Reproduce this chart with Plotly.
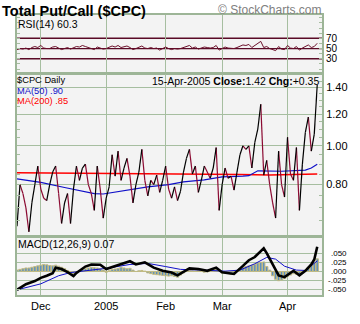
import math
import plotly.graph_objects as go

# ---------------- data ----------------
# trading-day index 0 = 18-Nov-2004 ... 101 = 15-Apr-2005
cpc = [0.63, 0.80, 0.76, 0.70, 0.61, 0.72, 0.80, 0.89, 0.78, 0.74,
       0.73, 0.80, 0.86, 0.89, 0.76, 0.64, 0.72, 0.76, 0.64, 0.78,
       0.89, 0.82, 0.88, 0.90, 0.80, 0.76, 0.69, 0.89, 0.78, 0.66,
       0.74, 0.79, 0.95, 0.84, 0.97, 0.82, 0.88, 0.93, 0.84, 0.72,
       0.80, 0.86, 0.98, 0.82, 0.75, 0.82, 0.80, 0.845, 0.765, 0.82,
       0.89, 0.78, 0.74, 0.79, 0.73, 0.77, 0.86, 0.93, 0.98, 0.85,
       0.89, 0.765, 0.82, 0.89, 0.86, 0.83, 0.88, 0.99, 0.69, 0.80,
       0.88, 0.83, 0.84, 0.775, 0.86, 0.95, 1.00, 0.98, 1.00, 0.88,
       1.02, 1.10, 1.27, 0.845, 0.92, 0.80, 0.72, 0.66, 0.97, 0.80,
       0.745, 1.05, 0.85, 0.82, 0.99, 0.69, 0.90, 1.08, 1.18, 0.97,
       1.07, 1.42]

ma50_days = [0, 8, 16, 26, 29, 39, 44, 51, 56, 63, 69, 76, 78, 81, 89, 97, 99, 101]
ma50_vals = [0.827, 0.81, 0.787, 0.76, 0.758, 0.78, 0.79, 0.80, 0.813, 0.822,
             0.836, 0.84, 0.842, 0.866, 0.864, 0.87, 0.88, 0.90]

ma200_days = [0, 20, 40, 60, 75, 85, 95, 101]
ma200_vals = [0.857, 0.855, 0.855, 0.853, 0.848, 0.846, 0.848, 0.85]

rsi = [48, 50, 49, 51, 48, 52, 54, 52, 56, 51,
       50, 50, 53, 54, 51, 48, 50, 52, 49, 51,
       54, 53, 56, 54, 52, 51, 48, 53, 51, 49,
       50, 52, 55, 53, 56, 52, 53, 55, 52, 48,
       50, 52, 55, 51, 50, 52, 50, 51, 47, 50,
       53, 50, 48, 50, 49, 50, 52, 54, 56, 51,
       53, 49, 51, 53, 52, 51, 52, 56, 47, 50,
       53, 51, 51, 50, 52, 55, 57, 56, 58, 52,
       56, 59, 64, 52, 54, 50, 48, 46, 54, 49,
       48, 56, 51, 50, 54, 47, 51, 54, 57, 52,
       54, 60.3]

macd_days = [0, 3, 6, 8, 10, 12, 13, 15, 17, 19, 20, 23, 25, 28, 30, 33, 35, 38,
             40, 43, 46, 49, 52, 54, 58, 61, 64, 67, 69, 73, 76, 78, 80, 83, 84,
             85, 87, 88, 90, 93, 95, 97, 99, 100, 101]
macd_vals = [-0.052, -0.036, -0.027, -0.018, -0.012, -0.005, 0.011, 0.007, -0.002,
             -0.013, -0.004, 0.014, 0.020, 0.019, 0.007, 0.015, 0.022, 0.029,
             0.020, 0.026, 0.011, 0.002, -0.003, -0.011, 0.009, 0.007, 0.002,
             0.011, -0.002, -0.007, 0.016, 0.032, 0.041, 0.066, 0.052, 0.036,
             0.002, -0.011, -0.016, 0.002, -0.011, 0.002, 0.020, 0.034, 0.070]

signal_days = [0, 8, 14, 18, 25, 30, 38, 44, 50, 55, 62, 70, 75, 80, 84, 87, 90, 94, 97, 101]
signal_vals = [-0.052, -0.035, -0.012, -0.003, 0.004, 0.009, 0.020, 0.023, 0.014,
               0.006, 0.004, 0.001, 0.004, 0.022, 0.040, 0.035, 0.015, 0.004,
               0.003, 0.030]

hist = [0.004, 0.006, 0.008, 0.010, 0.010, 0.012, 0.014, 0.016,
        0.018, 0.020, 0.019, 0.017, 0.016, 0.018, 0.015, 0.012,
        0.008, 0.003, -0.002, -0.006, -0.004, 0.002, 0.006, 0.008,
        0.010, 0.012, 0.011, 0.010, 0.008, 0.004, -0.002, 0.002,
        0.006, 0.007, 0.009, 0.012, 0.010, 0.008, 0.009, 0.004,
        0.000, 0.002, 0.003, 0.001, -0.004, -0.006, -0.008, -0.009,
        -0.010, -0.011, -0.012, -0.013, -0.012, -0.014, -0.016, -0.010,
        -0.004, 0.002, 0.003, 0.002, 0.001, 0.003, 0.001, -0.002,
        -0.001, 0.004, 0.006, 0.005, 0.000, -0.004, -0.005, -0.006,
        -0.008, -0.006, 0.002, 0.008, 0.012, 0.014, 0.016, 0.018,
        0.020, 0.024, 0.026, 0.027, 0.014, 0.004, -0.012, -0.022,
        -0.026, -0.024, -0.020, -0.014, -0.010, -0.006, -0.008, -0.010,
        -0.004, 0.002, 0.012, 0.018, 0.024, 0.036]

month_idx = [8, 30, 50, 69, 91]
month_labels = ["Dec", "2005", "Feb", "Mar", "Apr"]

rsi_ticks = [70, 50, 30]
price_ticks = [1.40, 1.20, 1.00, 0.80]
macd_ticks = [0.05, 0.025, 0.0, -0.025, -0.05]
macd_tick_labels = [".050", ".025", ".000", "-.025", "-.050"]

# ---------------- layout helpers ----------------
W, H = 360, 324
L, R, T, B = 17, 33, 15, 17
PW, PH = W - L - R, H - T - B


def px_x(p):
    return (p - L) / PW


def px_y(p):
    return (H - B - p) / PH


SAGE = "#a6bea0"
BORDER = "#9db597"
MAROON = "#8b0a32"
FONT = "Liberation Sans, Arial, sans-serif"

days = list(range(len(cpc)))
xr = [0, 102.6]

fig = go.Figure()

# RSI panel
fig.add_trace(go.Scatter(x=days, y=rsi, mode="lines", line=dict(color="#6b0f2a", width=1),
                         xaxis="x", yaxis="y", hoverinfo="skip"))

# price panel: black up-segments, maroon down-segments
ux, uy, dx, dy = [], [], [], []
for i in range(1, len(cpc)):
    if cpc[i] >= cpc[i - 1]:
        ux += [i - 1, i, None]
        uy += [cpc[i - 1], cpc[i], None]
    else:
        dx += [i - 1, i, None]
        dy += [cpc[i - 1], cpc[i], None]
fig.add_trace(go.Scatter(x=ma200_days, y=ma200_vals, mode="lines",
                         line=dict(color="#ff0000", width=1.5), xaxis="x2", yaxis="y2"))
fig.add_trace(go.Scatter(x=ma50_days, y=ma50_vals, mode="lines",
                         line=dict(color="#1010c8", width=1.2), xaxis="x2", yaxis="y2"))
fig.add_trace(go.Scatter(x=dx, y=dy, mode="lines", line=dict(color=MAROON, width=1.2),
                         xaxis="x2", yaxis="y2", connectgaps=False))
fig.add_trace(go.Scatter(x=ux, y=uy, mode="lines", line=dict(color="#000000", width=1.2),
                         xaxis="x2", yaxis="y2", connectgaps=False))

# MACD panel
fig.add_trace(go.Bar(x=days, y=hist, width=0.8,
                     marker=dict(color="#5a8ec0", line=dict(color="#c4bb80", width=1)),
                     xaxis="x3", yaxis="y3"))
fig.add_trace(go.Scatter(x=signal_days, y=signal_vals, mode="lines",
                         line=dict(color="#1010c8", width=1), xaxis="x3", yaxis="y3"))
fig.add_trace(go.Scatter(x=macd_days, y=macd_vals, mode="lines",
                         line=dict(color="#000000", width=2.6), xaxis="x3", yaxis="y3"))

xcommon = dict(range=xr, tickvals=month_idx, ticktext=month_labels, showgrid=True,
               gridcolor=SAGE, gridwidth=1, showline=True, mirror=True, linecolor=BORDER,
               linewidth=2, zeroline=False, ticks="", fixedrange=True)

dom_rsi = [px_y(76), px_y(15)]
dom_main = [px_y(245), px_y(77)]
dom_macd = [px_y(307), px_y(247)]

ycommon = dict(side="right", showline=True, mirror="allticks", linecolor=BORDER, linewidth=2,
               zeroline=False, ticks="inside", ticklen=3, tickcolor=SAGE,
               tickfont=dict(family=FONT, size=11, color="#000"), fixedrange=True)

fig.update_layout(
    width=W, height=H,
    margin=dict(l=L, r=R, t=T, b=B, pad=0),
    paper_bgcolor="white", plot_bgcolor="#f3f3f3",
    showlegend=False, bargap=0.2,
    font=dict(family=FONT, size=11, color="#000"),
    xaxis=dict(xcommon, domain=[0, 1], anchor="y", showticklabels=False),
    xaxis2=dict(xcommon, domain=[0, 1], anchor="y2", showticklabels=False),
    xaxis3=dict(xcommon, domain=[0, 1], anchor="y3", showticklabels=True,
                tickfont=dict(family=FONT, size=11, color="#000")),
    yaxis=dict(ycommon, domain=dom_rsi, anchor="x", range=[1.4, 115.4],
               tickvals=rsi_ticks, ticktext=[str(v) for v in rsi_ticks], showgrid=False,
               tickfont=dict(family=FONT, size=10, color="#000"),
               minor=dict(tickvals=[10, 20, 40, 60, 80, 90, 100, 110], ticks="inside",
                          ticklen=3, tickcolor=SAGE, showgrid=False)),
    yaxis2=dict(ycommon, domain=dom_main, anchor="x2", type="log",
                range=[math.log10(0.597), math.log10(1.507)],
                tickvals=price_ticks, ticktext=["%.2f" % v for v in price_ticks],
                showgrid=True, gridcolor=SAGE,
                minor=dict(tickvals=[0.6, 0.65, 0.7, 0.75, 0.85, 0.9, 0.95, 1.05, 1.1, 1.15,
                                     1.25, 1.3, 1.35, 1.45, 1.5],
                           ticks="inside", ticklen=3, tickcolor=SAGE, showgrid=False)),
    yaxis3=dict(ycommon, domain=dom_macd, anchor="x3", range=[-0.0666, 0.0965],
                tickvals=macd_ticks, showticklabels=False, showgrid=True, gridcolor=SAGE),
)

# RSI reference lines (70 / 50 / 30)
for lv, wd in ((70, 1.5), (50, 1.2), (30, 1.5)):
    fig.add_shape(type="line", xref="x", yref="y", x0=xr[0], x1=xr[1], y0=lv, y1=lv,
                  line=dict(color="#5a0a26", width=wd), layer="below")

# MACD tick labels (right aligned, tightly stacked like the original)
for v, t in zip(macd_ticks, macd_tick_labels):
    fig.add_annotation(xref="paper", yref="y3", x=px_x(353), y=v, text=t, showarrow=False,
                       xanchor="right", yanchor="middle", borderpad=0,
                       font=dict(size=8, family=FONT))

ann = [
    dict(x=px_x(1), y=px_y(1), text="<b>Total Put/Call ($CPC)</b>", size=14.5, color="#000",
         xanchor="left"),
    dict(x=px_x(328), y=px_y(1), text="© StockCharts.com", size=12, color="#808080",
         xanchor="right"),
    dict(x=px_x(17), y=px_y(17), text="RSI(14) 60.3", size=10.5, color="#000", xanchor="left"),
    dict(x=px_x(16), y=px_y(77), text="$CPC Daily", size=9.3, color="#000", xanchor="left"),
    dict(x=px_x(16), y=px_y(87.5), text="MA(50) .90", size=9.3, color="#1010c8",
         xanchor="left"),
    dict(x=px_x(16), y=px_y(98), text="MA(200) .85", size=9.3, color="#ff0000",
         xanchor="left"),
    dict(x=px_x(325), y=px_y(77), text="15-Apr-2005 <b>Close:</b>1.42 <b>Chg:</b>+0.35",
         size=10.5, color="#000", xanchor="right"),
    dict(x=px_x(17), y=px_y(247), text="MACD(12,26,9) 0.07", size=10.5, color="#000",
         xanchor="left"),
]
for a in ann:
    fig.add_annotation(xref="paper", yref="paper", x=a["x"], y=a["y"], text=a["text"],
                       showarrow=False, xanchor=a["xanchor"], yanchor="top",
                       font=dict(size=a["size"], color=a["color"], family=FONT), borderpad=0)

fig.write_html("out.html")
